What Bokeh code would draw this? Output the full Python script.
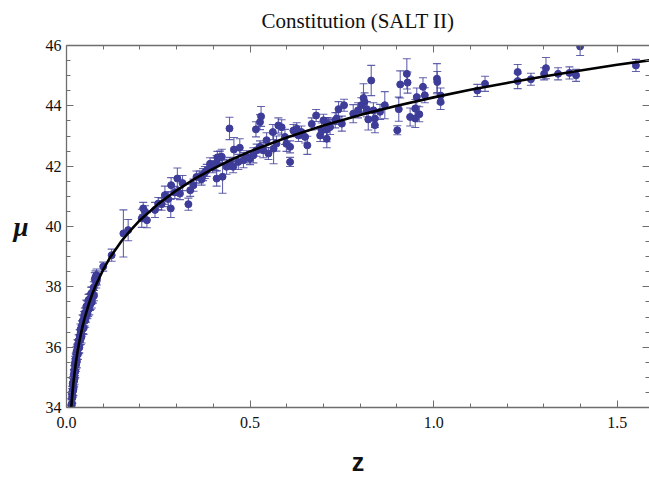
from bokeh.plotting import figure
from bokeh.models import LinearAxis, FixedTicker, ColumnDataSource, NumeralTickFormatter, CustomJSTickFormatter, Title
from bokeh.embed import file_html
from bokeh.resources import INLINE

# ---- data ----
z_low = [0.013, 0.014, 0.015, 0.015, 0.016, 0.016, 0.017, 0.017, 0.018, 0.018,
         0.019, 0.019, 0.020, 0.020, 0.021, 0.021, 0.022, 0.022, 0.023, 0.023,
         0.024, 0.024, 0.025, 0.025, 0.026, 0.026, 0.027, 0.027, 0.028, 0.028,
         0.029, 0.030, 0.030, 0.031, 0.032, 0.032, 0.033, 0.034, 0.035, 0.035,
         0.036, 0.037, 0.038, 0.039, 0.040, 0.041, 0.042, 0.043, 0.044, 0.045,
         0.046, 0.047, 0.048, 0.049, 0.050, 0.051, 0.052, 0.053, 0.054, 0.055,
         0.056, 0.057, 0.058, 0.059, 0.060, 0.061, 0.062, 0.063, 0.064, 0.065,
         0.066, 0.067, 0.068, 0.069, 0.070, 0.072, 0.074, 0.075, 0.077, 0.079,
         0.081, 0.082, 0.083]
mu_low = [34.08, 34.06, 34.44, 34.14, 34.51, 34.34, 34.79, 34.53, 34.57, 34.82,
          34.85, 34.61, 35.09, 34.87, 35.24, 34.92, 35.20, 34.96, 35.48, 35.21,
          35.44, 35.19, 35.42, 35.61, 35.41, 35.59, 35.83, 35.53, 35.73, 35.51,
          35.90, 35.78, 36.04, 35.77, 36.07, 35.95, 36.22, 36.02, 36.24, 35.99,
          36.37, 36.23, 36.58, 36.29, 36.52, 36.36, 36.70, 36.60, 36.87, 36.63,
          36.86, 36.64, 37.01, 36.91, 37.14, 36.88, 37.12, 37.02, 37.35, 37.14,
          37.34, 37.12, 37.35, 37.24, 37.56, 37.39, 37.28, 37.59, 37.42, 37.61,
          37.44, 37.77, 37.60, 37.50, 37.81, 37.67, 37.98, 37.71, 38.25, 38.33,
          38.14, 38.39, 38.25]
err_low = [0.22, 0.20, 0.18, 0.21, 0.19, 0.20, 0.17, 0.18, 0.16, 0.19,
           0.18, 0.22, 0.17, 0.20, 0.16, 0.21, 0.18, 0.19, 0.22, 0.15,
           0.18, 0.20, 0.16, 0.19, 0.21, 0.17, 0.18, 0.22, 0.16, 0.19,
           0.20, 0.17, 0.21, 0.18, 0.16, 0.20, 0.19, 0.22, 0.17, 0.18,
           0.21, 0.16, 0.19, 0.20, 0.18, 0.22, 0.17, 0.16, 0.20, 0.19,
           0.18, 0.21, 0.17, 0.20, 0.16, 0.22, 0.18, 0.19, 0.21, 0.17,
           0.20, 0.18, 0.16, 0.22, 0.19, 0.17, 0.21, 0.18, 0.20, 0.16,
           0.19, 0.22, 0.17, 0.20, 0.18, 0.21, 0.19, 0.17, 0.22, 0.20,
           0.18, 0.20, 0.19]

z_mid = [0.100, 0.123, 0.155, 0.168, 0.209, 0.205, 0.219, 0.214, 0.241, 0.250,
         0.268, 0.284, 0.285, 0.302, 0.309, 0.316, 0.332, 0.337, 0.346, 0.363,
         0.382, 0.409, 0.409, 0.418, 0.259, 0.277, 0.295, 0.354, 0.391, 0.372,
         0.398, 0.368, 0.377, 0.404, 0.411, 0.444, 0.530, 0.527, 0.516, 0.425,
         0.423, 0.456, 0.472, 0.609, 0.564, 0.562, 0.577, 0.586, 0.599, 0.618,
         0.627, 0.640, 0.656, 0.680, 0.668, 0.713, 0.482, 0.491, 0.509, 0.527,
         0.536, 0.550, 0.545, 0.572, 0.436, 0.454, 0.445, 0.468, 0.500, 0.518,
         0.595, 0.632, 0.650, 0.691, 0.609]
mu_mid = [38.67, 39.05, 39.77, 39.88, 40.60, 40.27, 40.21, 40.49, 40.55, 40.76,
          41.04, 40.60, 41.37, 41.59, 41.09, 41.44, 40.74, 41.20, 41.37, 41.64,
          41.86, 42.10, 41.59, 42.30, 40.74, 40.91, 41.13, 41.64, 42.08, 41.72,
          41.98, 41.57, 41.79, 42.07, 42.29, 43.25, 43.65, 43.46, 43.22, 41.65,
          42.31, 42.55, 42.61, 42.14, 42.58, 43.13, 43.35, 43.29, 42.74, 43.18,
          43.24, 43.13, 42.69, 43.68, 43.40, 43.40, 42.20, 42.31, 42.36, 42.64,
          42.53, 42.42, 42.86, 42.75, 41.98, 41.98, 42.09, 42.14, 42.25, 42.53,
          42.97, 43.02, 42.97, 43.02, 42.64]
err_mid = [0.15, 0.20, 0.78, 0.35, 0.20, 0.30, 0.25, 0.20, 0.25, 0.20,
           0.30, 0.30, 0.25, 0.35, 0.20, 0.25, 0.20, 0.20, 0.20, 0.20,
           0.20, 0.25, 0.25, 0.20, 0.20, 0.25, 0.20, 0.20, 0.20, 0.20,
           0.20, 0.20, 0.20, 0.20, 0.20, 0.37, 0.33, 0.25, 0.25, 0.55,
           0.25, 0.40, 0.30, 0.15, 0.50, 0.25, 0.25, 0.25, 0.25, 0.20,
           0.20, 0.20, 0.30, 0.20, 0.20, 0.20, 0.25, 0.20, 0.25, 0.20,
           0.25, 0.20, 0.25, 0.25, 0.25, 0.20, 0.20, 0.25, 0.20, 0.20,
           0.25, 0.20, 0.20, 0.20, 0.20]

z_high = [0.830, 0.909, 0.927, 0.929, 1.009, 1.010, 0.809, 0.812, 0.756, 0.741,
          0.709, 0.709, 0.695, 0.732, 0.750, 0.781, 0.794, 0.818, 0.822, 0.840,
          0.840, 0.854, 0.867, 0.905, 0.901, 0.936, 0.950, 0.954, 0.950, 0.961,
          0.971, 0.976, 1.019, 1.019, 0.700, 0.718, 0.736, 0.803, 0.836, 1.119,
          1.140, 1.229, 1.229, 1.265, 1.301, 1.306, 1.339, 1.370, 1.388, 1.399,
          1.551]
mu_high = [44.84, 44.71, 45.06, 44.77, 44.90, 44.79, 44.26, 44.13, 44.02, 43.89,
           43.21, 42.91, 43.18, 43.52, 43.41, 43.74, 43.85, 43.89, 43.55, 43.58,
           43.36, 43.80, 44.02, 43.89, 43.19, 43.63, 43.91, 44.29, 43.58, 43.72,
           44.63, 44.35, 44.13, 44.34, 43.52, 43.30, 43.58, 44.02, 43.85, 44.51,
           44.73, 45.12, 44.82, 44.88, 45.06, 45.25, 45.06, 45.09, 45.01, 45.97,
           45.34]
err_high = [0.50, 0.45, 0.50, 0.35, 0.50, 0.35, 0.47, 0.30, 0.20, 0.25,
            0.40, 0.30, 0.25, 0.25, 0.25, 0.30, 0.25, 0.25, 0.35, 0.30,
            0.25, 0.25, 0.45, 0.40, 0.15, 0.30, 0.30, 0.30, 0.30, 0.25,
            0.30, 0.25, 0.25, 0.25, 0.20, 0.25, 0.20, 0.25, 0.25, 0.20,
            0.25, 0.25, 0.25, 0.20, 0.20, 0.35, 0.20, 0.20, 0.20, 0.30,
            0.20]

curve_z = [0.010, 0.0115, 0.013, 0.015, 0.017, 0.020, 0.025, 0.030, 0.035, 0.040,
           0.045, 0.050, 0.060, 0.070, 0.080, 0.100, 0.120, 0.150, 0.175, 0.200,
           0.250, 0.300, 0.350, 0.400, 0.450, 0.500, 0.600, 0.700, 0.800, 0.900,
           1.000, 1.100, 1.200, 1.300, 1.400, 1.500, 1.600]
curve_mu = [33.42, 33.73, 34.00, 34.32, 34.59, 34.95, 35.44, 35.85, 36.19, 36.49,
            36.75, 36.99, 37.40, 37.76, 38.06, 38.57, 39.00, 39.52, 39.88, 40.21,
            40.75, 41.20, 41.59, 41.92, 42.22, 42.49, 42.95, 43.35, 43.70, 44.00,
            44.28, 44.53, 44.76, 44.97, 45.17, 45.36, 45.53]

x_major = [0.0, 0.5, 1.0, 1.5]
x_minor = [0.1, 0.2, 0.3, 0.4, 0.6, 0.7, 0.8, 0.9, 1.1, 1.2, 1.3, 1.4, 1.6]
y_major = [34, 36, 38, 40, 42, 44, 46]
y_minor = [34.5, 35, 35.5, 36.5, 37, 37.5, 38.5, 39, 39.5, 40.5, 41, 41.5,
           42.5, 43, 43.5, 44.5, 45, 45.5]
spacer_tick = [0.8]

title_text = "Constitution (SALT II)"
x_label = "z"
y_label = "\u03bc"

# ---- build ----
z_all = z_low + z_mid + z_high
mu_all = mu_low + mu_mid + mu_high
err_all = err_low + err_mid + err_high
src = ColumnDataSource(dict(
    z=z_all, mu=mu_all,
    up=[m + e for m, e in zip(mu_all, err_all)],
    lo=[m - e for m, e in zip(mu_all, err_all)],
))

PT = "#3d3d99"
FRAME = "#6e6e6e"
SERIF = "'Liberation Serif'"

p = figure(width=649, height=478, x_range=(0, 1.588), y_range=(34, 46),
           output_backend="svg", toolbar_location=None,
           min_border_left=66, min_border_right=0, min_border_top=45,
           min_border_bottom=70)
p.title.visible = False
p.xgrid.visible = False
p.ygrid.visible = False
p.outline_line_color = None
p.background_fill_color = "white"
p.border_fill_color = "white"

xt = FixedTicker(ticks=x_major, minor_ticks=x_minor)
yt = FixedTicker(ticks=y_major, minor_ticks=y_minor)
blank = CustomJSTickFormatter(code="return ''")


def style(ax, labels=True):
    ax.major_tick_in = 7
    ax.major_tick_out = 0
    ax.minor_tick_in = 4
    ax.minor_tick_out = 0
    ax.axis_line_color = FRAME
    ax.axis_line_width = 1.3
    ax.major_tick_line_color = FRAME
    ax.minor_tick_line_color = FRAME
    if labels:
        ax.major_label_text_font = SERIF
        ax.major_label_text_font_size = "16px"
        ax.major_label_text_color = "#111111"
    else:
        ax.formatter = blank
        ax.major_label_standoff = 0


xa = p.xaxis[0]
ya = p.yaxis[0]
xa.ticker = xt
ya.ticker = yt
style(xa)
style(ya)
xa.formatter = NumeralTickFormatter(format="0.0")
xa.major_label_standoff = 9
ya.major_label_standoff = 5

xa.axis_label = x_label
xa.axis_label_text_font = "'Liberation Sans'"
xa.axis_label_text_font_size = "25px"
xa.axis_label_text_font_style = "bold"
xa.axis_label_text_color = "#111111"
xa.axis_label_standoff = 17

ya.axis_label = y_label
ya.axis_label_orientation = "horizontal"
ya.axis_label_text_font = SERIF
ya.axis_label_text_font_size = "27px"
ya.axis_label_text_font_style = "bold italic"
ya.axis_label_text_color = "#111111"
ya.axis_label_standoff = 14

top = LinearAxis(ticker=xt)
style(top, labels=False)
p.add_layout(top, "above")

# invisible spacer between the top frame ticks and the title
spacer = LinearAxis(ticker=FixedTicker(ticks=spacer_tick, minor_ticks=[]),
                    formatter=blank,
                    major_tick_in=0, major_tick_out=13,
                    minor_tick_in=0, minor_tick_out=0,
                    major_label_standoff=0,
                    axis_line_alpha=0, major_tick_line_alpha=0,
                    minor_tick_line_alpha=0)
p.add_layout(spacer, "above")

p.add_layout(Title(text=title_text, align="center", text_font=SERIF,
                   text_font_size="21px", text_font_style="normal",
                   text_color="#111111", standoff=0), "above")

right = LinearAxis(ticker=yt)
style(right, labels=False)
right.axis_line_alpha = 0
p.add_layout(right, "right")

# error bars
p.segment(x0="z", y0="lo", x1="z", y1="up", source=src,
          line_color=PT, line_width=1.1, line_alpha=0.8)
p.scatter(x="z", y="up", source=src, marker="dash", size=8,
          line_color=PT, line_width=1.1, line_alpha=0.8)
p.scatter(x="z", y="lo", source=src, marker="dash", size=8,
          line_color=PT, line_width=1.1, line_alpha=0.8)
# points
p.scatter(x="z", y="mu", source=src, marker="circle", size=7,
          fill_color=PT, line_color=PT)
# model curve
p.line(curve_z, curve_mu, line_color="black", line_width=2.6)

open("out.html", "w").write(file_html(p, INLINE))
